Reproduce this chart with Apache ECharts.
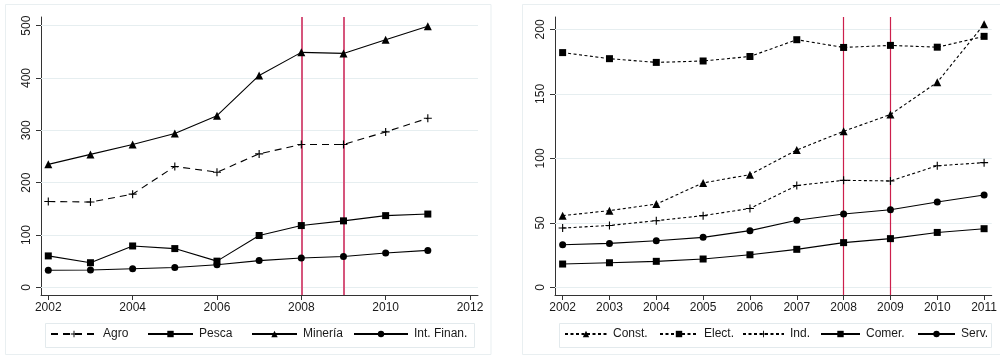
<!DOCTYPE html>
<html>
<head>
<meta charset="utf-8">
<script src="https://cdn.jsdelivr.net/npm/echarts@6/dist/echarts.min.js"></script>
<style>html,body{margin:0;padding:0;background:#fff;}#c{width:1000px;height:360px;}</style>
</head>
<body>
<div id="c"></div>
<script>
// ---- data ----
const years = [2002, 2003, 2004, 2005, 2006, 2007, 2008, 2009, 2010, 2011];
// left panel
const agro = [164, 163, 178, 231, 220, 255, 273, 273, 297, 323];
const pesca = [60, 47, 79, 74, 50, 99, 118, 127, 137, 140];
const mineria = [235, 254, 273, 294, 328, 405, 449, 447, 473, 499];
const intFinan = [32.5, 33, 35.5, 38, 43, 51, 56, 59, 65.5, 70.5];
// right panel
const construc = [55.6, 59.5, 64.6, 81, 87.4, 106.5, 121, 134, 159, 204];
const elect = [182, 177.3, 174.4, 175.5, 179, 192, 186, 187.6, 186.2, 194.6];
const ind = [46, 48, 51.7, 55.6, 61.2, 79, 83, 82.5, 94.3, 96.7];
const comer = [18.1, 19.1, 20.2, 22, 25.3, 29.5, 34.7, 37.8, 42.6, 45.5];
const serv = [33, 34.1, 36.2, 38.8, 44, 52, 56.9, 60.2, 66.2, 71.6];
// tick labels
const leftXTicks = [2002, 2004, 2006, 2008, 2010, 2012];
const leftYTicks = [0, 100, 200, 300, 400, 500];
const rightXTicks = [2002, 2003, 2004, 2005, 2006, 2007, 2008, 2009, 2010, 2011];
const rightYTicks = [0, 50, 100, 150, 200];
const crisisYears = [2008, 2009];

// ---- helpers ----
const pairs = (vals) => years.map((y, i) => [y, vals[i]]);
const FONT = 'Liberation Sans, Arial, sans-serif';
const TXT = '#1a1a1a';
const GRIDC = '#e6eef0';
const PLUS = 'path://M4.3,0h1.4v4.3h4.3v1.4h-4.3v4.3h-1.4v-4.3h-4.3v-1.4h4.3z';

function xAxis(gi, min, max, ticks) {
  return {
    type: 'value', gridIndex: gi, min: min, max: max,
    axisLine: {show: true, onZero: false, lineStyle: {color: '#333', width: 1}},
    axisTick: {show: true, length: 5, customValues: ticks, lineStyle: {color: '#333'}},
    axisLabel: {customValues: ticks, color: TXT, fontFamily: FONT, fontSize: 12, margin: 7,
      formatter: v => String(Math.round(v))},
    splitLine: {show: false}
  };
}
function yAxis(gi, min, max, ticks) {
  return {
    type: 'value', gridIndex: gi, min: min, max: max,
    axisLine: {show: true, onZero: false, lineStyle: {color: '#333', width: 1}},
    axisTick: {show: true, length: 5, customValues: ticks, lineStyle: {color: '#333'}},
    axisLabel: {customValues: ticks, color: TXT, fontFamily: FONT, fontSize: 12, rotate: 90, margin: 8,
      formatter: v => String(Math.round(v))},
    splitLine: {show: false}
  };
}
function lineSeries(name, gi, vals, symbol, size, dash) {
  return {
    name: name, type: 'line', xAxisIndex: gi, yAxisIndex: gi, z: 5,
    data: pairs(vals), symbol: symbol, symbolSize: size, showSymbol: true,
    lineStyle: {color: '#000', width: 1.1, type: dash || 'solid'},
    itemStyle: {color: '#000', borderWidth: 0},
    emphasis: {disabled: true}, animation: false
  };
}
function refSeries(gi, yTicks, redColor, redWidth) {
  return {
    type: 'line', xAxisIndex: gi, yAxisIndex: gi, data: [], z: 1, silent: true, animation: false,
    markLine: {
      silent: true, symbol: ['none', 'none'], label: {show: false}, animation: false,
      data: yTicks.map(v => ({yAxis: v, lineStyle: {color: GRIDC, width: 1, type: 'solid'}}))
        .concat(crisisYears.map(v => ({xAxis: v, lineStyle: {color: redColor, width: redWidth, type: 'solid'}})))
    }
  };
}
function legendItem(name, left, iw) {
  return {
    data: [name], left: left, top: 328, itemWidth: iw, itemHeight: 8, itemGap: 0,
    padding: 0, selectedMode: false,
    textStyle: {color: TXT, fontFamily: FONT, fontSize: 12, padding: [0, 0, 0, 1]}
  };
}

const chart = echarts.init(document.getElementById('c'), null, {renderer: 'canvas'});
chart.setOption({
  backgroundColor: '#fff',
  animation: false,
  graphic: [
    {type: 'rect', z: -10, shape: {x: 5.5, y: 4.5, width: 485.5, height: 350}, style: {fill: '#fff', stroke: '#e9eff1', lineWidth: 1}},
    {type: 'rect', z: -10, shape: {x: 522.5, y: 4.5, width: 500, height: 350}, style: {fill: '#fff', stroke: '#e9eff1', lineWidth: 1}},
    {type: 'rect', z: -5, shape: {x: 45.5, y: 323.5, width: 429, height: 24}, style: {fill: '#fff', stroke: '#e3eaed', lineWidth: 1}},
    {type: 'rect', z: -5, shape: {x: 559.5, y: 323.5, width: 432, height: 24}, style: {fill: '#fff', stroke: '#e3eaed', lineWidth: 1}}
  ],
  grid: [
    {left: 41, top: 17, width: 437, height: 278},
    {left: 555, top: 17, width: 441, height: 278}
  ],
  xAxis: [
    xAxis(0, 2001.827, 2012.19, leftXTicks),
    xAxis(1, 2001.837, 2011.163, rightXTicks)
  ],
  yAxis: [
    yAxis(0, -14.7, 516.6, leftYTicks),
    yAxis(1, -5.9, 209.6, rightYTicks)
  ],
  legend: [
    legendItem('Agro', 50, 46),
    legendItem('Pesca', 147, 45),
    legendItem('Minería', 251, 45),
    legendItem('Int. Finan.', 353, 54),
    legendItem('Const.', 564, 42),
    legendItem('Elect.', 659, 38),
    legendItem('Ind.', 742, 41),
    legendItem('Comer.', 820, 39),
    legendItem('Serv.', 917, 37)
  ],
  series: [
    refSeries(0, leftYTicks, '#d6557c', 2),
    refSeries(1, rightYTicks, '#cc1f4c', 1.2),
    lineSeries('Agro', 0, agro, PLUS, 8, [7, 5]),
    lineSeries('Pesca', 0, pesca, 'rect', 7),
    lineSeries('Minería', 0, mineria, 'triangle', 8),
    lineSeries('Int. Finan.', 0, intFinan, 'circle', 7),
    lineSeries('Const.', 1, construc, 'triangle', 8, [3, 2.5]),
    lineSeries('Elect.', 1, elect, 'rect', 7, [3, 2.5]),
    lineSeries('Ind.', 1, ind, PLUS, 8, [3, 2.5]),
    lineSeries('Comer.', 1, comer, 'rect', 7),
    lineSeries('Serv.', 1, serv, 'circle', 7)
  ]
});
</script>
</body>
</html>
